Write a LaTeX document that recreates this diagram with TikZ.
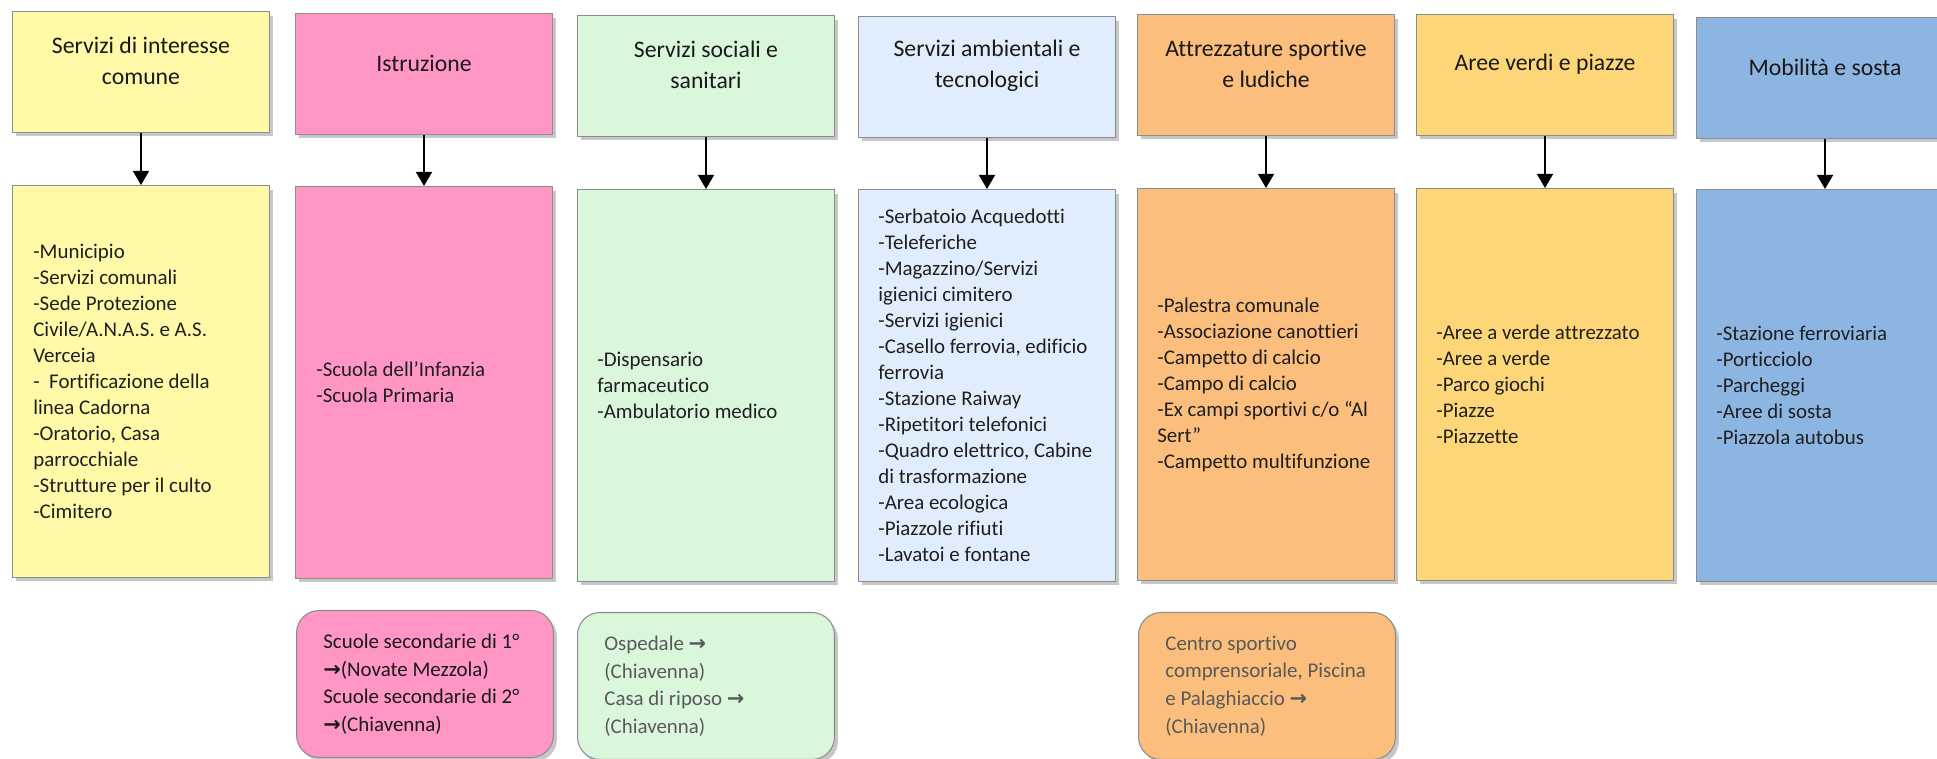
\documentclass[tikz,border=0pt]{standalone}
\usepackage{fontspec}
\setmainfont{Carlito}[Ligatures=NoCommon]
\newfontfamily\symfont{DejaVu Sans}
\usetikzlibrary{arrows.meta,calc,shadows}
\definecolor{cYel}{HTML}{FFF9A8}
\definecolor{cPink}{HTML}{FF96C6}
\definecolor{cGreen}{HTML}{DAF7DC}
\definecolor{cLBlue}{HTML}{E0EDFC}
\definecolor{cOrange}{HTML}{FBBE7C}
\definecolor{cGold}{HTML}{FDD677}
\definecolor{cBlue}{HTML}{8DB5E2}
\definecolor{cBorder}{HTML}{8C8C8C}
\definecolor{cGrayText}{HTML}{595959}
\newcommand{\myarrow}{{\symfont\bfseries →}}
\begin{document}
\begin{tikzpicture}[x=0.02cm,y=-0.02cm,
  box/.style={draw=cBorder, line width=0.6pt, anchor=north west, minimum width=5.14cm, inner sep=0pt,
    drop shadow={shadow xshift=0.07cm, shadow yshift=-0.08cm, opacity=0.22, fill=black}},
  topbox/.style={box, minimum height=2.42cm},
  lowbox/.style={box, minimum height=7.84cm},
  extbox/.style={box, rounded corners=0.45cm, minimum height=2.94cm},
  title/.style={inner sep=0pt, align=center, font=\fontsize{13.5}{17.5}\selectfont, text=black!90},
  body/.style={inner sep=0pt, align=left, anchor=west, font=\fontsize{11.9}{14.8}\selectfont, text=black!88},
  ext/.style={inner sep=0pt, align=left, anchor=west, font=\fontsize{11.9}{15.7}\selectfont},
  conn/.style={draw=black, line width=0.8pt, -{Triangle[width=0.32cm,length=0.28cm]}},
]
\useasboundingbox (0,0) rectangle (1937,759);

% top boxes
\node[topbox, fill=cYel]    (t1) at (12,11) {};
\node[topbox, fill=cPink]   (t2) at (295,13) {};
\node[topbox, fill=cGreen]  (t3) at (577,15) {};
\node[topbox, fill=cLBlue]  (t4) at (858,16) {};
\node[topbox, fill=cOrange] (t5) at (1137,14) {};
\node[topbox, fill=cGold]   (t6) at (1416,14) {};
\node[topbox, fill=cBlue]   (t7) at (1696,17) {};

\node[title] (t1l) at ($(t1.north)+(0,50)$) {Servizi di interesse\\comune};
\node[title] (t2l) at ($(t2.north)+(0,50)$) {Istruzione};
\node[title] (t3l) at ($(t3.north)+(0,50)$) {Servizi sociali e\\sanitari};
\node[title] (t4l) at ($(t4.north)+(0,50)$) {Servizi ambientali e\\tecnologici};
\node[title] (t5l) at ($(t5.north)+(0,50)$) {Attrezzature sportive\\e ludiche};
\node[title] (t6l) at ($(t6.north)+(0,50)$) {Aree verdi e piazze};
\node[title] (t7l) at ($(t7.north)+(0,50)$) {Mobilità e sosta};

% lower boxes
\node[lowbox, fill=cYel]    (b1) at (12,185) {};
\node[lowbox, fill=cPink]   (b2) at (295,186) {};
\node[lowbox, fill=cGreen]  (b3) at (577,189) {};
\node[lowbox, fill=cLBlue]  (b4) at (858,189) {};
\node[lowbox, fill=cOrange] (b5) at (1137,188) {};
\node[lowbox, fill=cGold]   (b6) at (1416,188) {};
\node[lowbox, fill=cBlue]   (b7) at (1696,189) {};

\node[body] (b1l) at ($(b1.west)+(21,0)$) {-Municipio\\-Servizi comunali\\-Sede Protezione\\Civile/A.N.A.S. e A.S.\\Verceia\\- \ Fortificazione della\\linea Cadorna\\-Oratorio, Casa\\parrocchiale\\-Strutture per il culto\\-Cimitero};
\node[body] (b2l) at ($(b2.west)+(21,0)$) {-Scuola dell’Infanzia\\-Scuola Primaria};
\node[body] (b3l) at ($(b3.west)+(20,0)$) {-Dispensario\\farmaceutico\\-Ambulatorio medico};
\node[body] (b4l) at ($(b4.west)+(20,0)$) {-Serbatoio Acquedotti\\-Teleferiche\\-Magazzino/Servizi\\igienici cimitero\\-Servizi igienici\\-Casello ferrovia, edificio\\ferrovia\\-Stazione Raiway\\-Ripetitori telefonici\\-Quadro elettrico, Cabine\\di trasformazione\\-Area ecologica\\-Piazzole rifiuti\\-Lavatoi e fontane};
\node[body] (b5l) at ($(b5.west)+(20,0)$) {-Palestra comunale\\-Associazione canottieri\\-Campetto di calcio\\-Campo di calcio\\-Ex campi sportivi c/o “Al\\Sert”\\-Campetto multifunzione};
\node[body] (b6l) at ($(b6.west)+(20,0)$) {-Aree a verde attrezzato\\-Aree a verde\\-Parco giochi\\-Piazze\\-Piazzette};
\node[body] (b7l) at ($(b7.west)+(20,0)$) {-Stazione ferroviaria\\-Porticciolo\\-Parcheggi\\-Aree di sosta\\-Piazzola autobus};

% connectors
\draw[conn] (t1.south) -- (b1.north);
\draw[conn] (t2.south) -- (b2.north);
\draw[conn] (t3.south) -- (b3.north);
\draw[conn] (t4.south) -- (b4.north);
\draw[conn] (t5.south) -- (b5.north);
\draw[conn] (t6.south) -- (b6.north);
\draw[conn] (t7.south) -- (b7.north);

% external services
\node[extbox, fill=cPink]   (r2) at (296,610) {};
\node[extbox, fill=cGreen]  (r3) at (577,612) {};
\node[extbox, fill=cOrange] (r5) at (1138,612) {};

\node[ext, text=black!90] (r2l) at ($(r2.west)+(27,0)$) {Scuole secondarie di 1°\\\myarrow(Novate Mezzola)\\Scuole secondarie di 2°\\\myarrow(Chiavenna)};
\node[ext, text=cGrayText] (r3l) at ($(r3.west)+(27,0)$) {Ospedale \myarrow\\(Chiavenna)\\Casa di riposo \myarrow\\(Chiavenna)};
\node[ext, text=cGrayText] (r5l) at ($(r5.west)+(27,0)$) {Centro sportivo\\comprensoriale, Piscina\\e Palaghiaccio \myarrow\\(Chiavenna)};
\end{tikzpicture}
\end{document}
